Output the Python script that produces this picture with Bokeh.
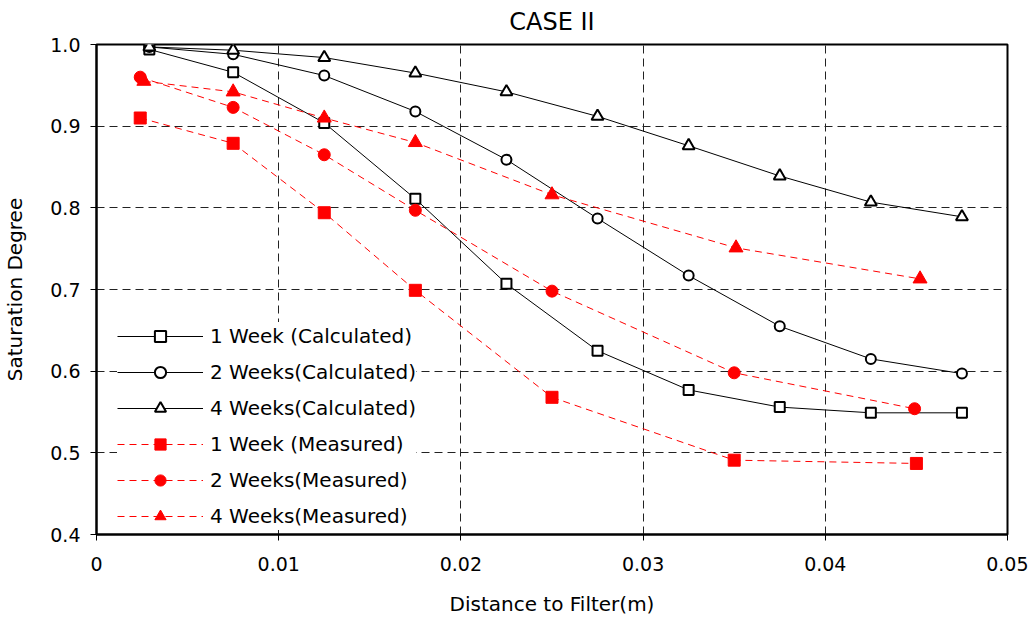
from bokeh.plotting import figure
from bokeh.models import Range1d, FixedTicker, Legend, LegendItem, PrintfTickFormatter
from bokeh.embed import file_html
from bokeh.resources import INLINE

# ---- data ----
calc_x = [0.0029, 0.0075, 0.0125, 0.0175, 0.0225, 0.0275, 0.0325, 0.0375, 0.0425, 0.0475]
calc_1wk = [0.994, 0.966, 0.904, 0.811, 0.707, 0.625, 0.577, 0.556, 0.549, 0.549]
calc_2wk = [0.997, 0.988, 0.962, 0.918, 0.859, 0.787, 0.717, 0.655, 0.615, 0.597]
calc_4wk = [0.997, 0.993, 0.984, 0.965, 0.942, 0.912, 0.876, 0.839, 0.807, 0.789]

meas_x_1wk = [0.0024, 0.0075, 0.0125, 0.0175, 0.025, 0.035, 0.045]
meas_1wk = [0.910, 0.879, 0.794, 0.699, 0.568, 0.491, 0.487]
meas_x_2wk = [0.0024, 0.0075, 0.0125, 0.0175, 0.025, 0.035, 0.0449]
meas_2wk = [0.960, 0.923, 0.865, 0.797, 0.698, 0.598, 0.554]
meas_x_4wk = [0.0026, 0.0075, 0.0125, 0.0175, 0.025, 0.0351, 0.0452]
meas_4wk = [0.955, 0.942, 0.910, 0.880, 0.816, 0.751, 0.713]

labels = ["1 Week (Calculated)", "2 Weeks(Calculated)", "4 Weeks(Calculated)",
          "1 Week (Measured)", "2 Weeks(Measured)", "4 Weeks(Measured)"]
x_ticks = [0, 0.01, 0.02, 0.03, 0.04, 0.05]
y_ticks = [0.4, 0.5, 0.6, 0.7, 0.8, 0.9, 1.0]

FONT = "DejaVu Sans"

p = figure(width=1028, height=618, output_backend="svg", toolbar_location=None,
           x_range=Range1d(0, 0.05), y_range=Range1d(0.4, 1.0),
           min_border_left=93, min_border_right=21, min_border_top=44, min_border_bottom=82,
           background_fill_color="white", border_fill_color="white")

p.title.text = "CASE II"
p.title.align = "center"
p.title.vertical_align = "top"
p.title.text_font = FONT
p.title.text_font_size = "24px"
p.title.text_font_style = "normal"
p.title.text_color = "black"
p.title.standoff = 14

p.outline_line_color = "black"
p.outline_line_width = 2
p.outline_line_alpha = 1

for ax in (p.xaxis[0], p.yaxis[0]):
    ax.axis_line_color = "black"
    ax.axis_line_width = 2
    ax.major_tick_line_color = "black"
    ax.major_tick_line_width = 1
    ax.major_tick_in = 0
    ax.major_tick_out = 6
    ax.minor_tick_line_color = None
    ax.major_label_text_font = FONT
    ax.major_label_text_font_size = "19px"
    ax.major_label_text_color = "black"
    ax.axis_label_text_font = FONT
    ax.axis_label_text_font_size = "20px"
    ax.axis_label_text_font_style = "normal"
    ax.axis_label_text_color = "black"

p.xaxis[0].ticker = FixedTicker(ticks=x_ticks)
p.xaxis[0].formatter = PrintfTickFormatter(format="%.2f")
p.xaxis[0].major_label_overrides = {0: "0"}
p.xaxis[0].axis_label = "Distance to Filter(m)"
p.xaxis[0].major_label_standoff = 16
p.xaxis[0].axis_label_standoff = 18

p.yaxis[0].ticker = FixedTicker(ticks=y_ticks)
p.yaxis[0].formatter = PrintfTickFormatter(format="%.1f")
p.yaxis[0].axis_label = "Saturation Degree"
p.yaxis[0].major_label_standoff = 10
p.yaxis[0].axis_label_standoff = 20

for g in (p.xgrid[0], p.ygrid[0]):
    g.grid_line_color = "#222222"
    g.grid_line_width = 1
    g.grid_line_dash = "8 5"
p.xgrid[0].ticker = FixedTicker(ticks=x_ticks)
p.ygrid[0].ticker = FixedTicker(ticks=y_ticks)

items = []
# calculated (black solid, open markers)
for ys, marker, size in ((calc_1wk, "square", 10), (calc_2wk, "circle", 10), (calc_4wk, "triangle", 12)):
    ln = p.line(calc_x, ys, line_color="black", line_width=1)
    sc = p.scatter(calc_x, ys, marker=marker, size=size, fill_color="white",
                   line_color="black", line_width=2)
    items.append([ln, sc])

# measured (red dashed, filled markers)
for xs, ys, marker, size in ((meas_x_1wk, meas_1wk, "square", 12), (meas_x_2wk, meas_2wk, "circle", 12),
                             (meas_x_4wk, meas_4wk, "triangle", 14)):
    ln = p.line(xs, ys, line_color="red", line_width=1, line_dash="7 5")
    sc = p.scatter(xs, ys, marker=marker, size=size, fill_color="red", line_color="red", line_width=1)
    items.append([ln, sc])

legend = Legend(items=[LegendItem(label=lab, renderers=r) for lab, r in zip(labels, items)],
                location=(21, 4))
legend.background_fill_color = "white"
legend.background_fill_alpha = 1
legend.border_line_color = None
legend.label_text_font = FONT
legend.label_text_font_size = "20px"
legend.label_text_color = "black"
legend.glyph_width = 86
legend.glyph_height = 28
legend.label_height = 28
legend.label_standoff = 7
legend.spacing = 8
legend.padding = 2
legend.margin = 0
p.add_layout(legend, "center")

open("out.html", "w").write(file_html(p, INLINE))
